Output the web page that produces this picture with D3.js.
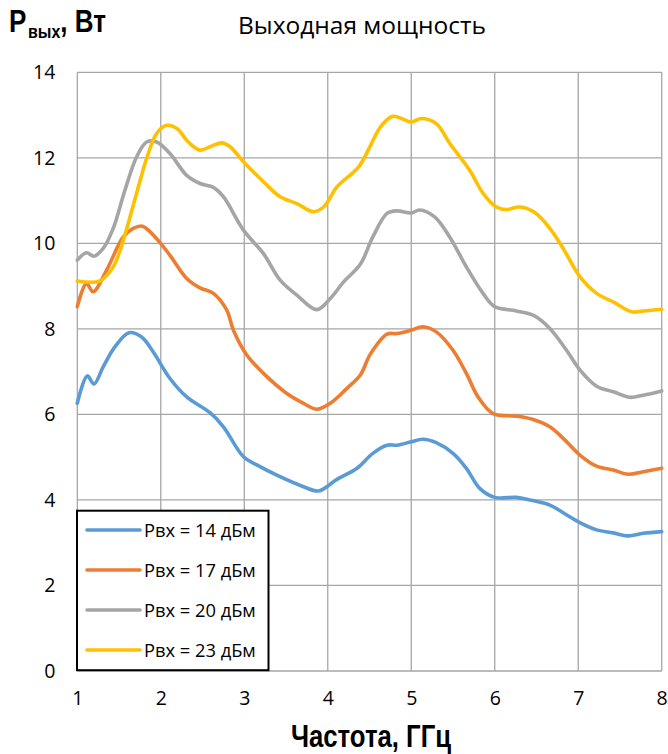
<!DOCTYPE html>
<html><head><meta charset="utf-8">
<script src="https://cdn.jsdelivr.net/npm/d3@7"></script>
<style>
html,body{margin:0;padding:0;background:#fff;}
svg{display:block;}
</style></head>
<body>
<svg id="chart" width="668" height="754"></svg>
<script>
// ---------- data ----------
const xTicks = [1,2,3,4,5,6,7,8];
const yTicks = [0,2,4,6,8,10,12,14];
const seriesNames = ["Рвх = 14 дБм","Рвх = 17 дБм","Рвх = 20 дБм","Рвх = 23 дБм"];
const seriesColors = ["#5B9BD5","#ED7D31","#A5A5A5","#FFC000"];

const freq14 = [1.0,1.12,1.2,1.31,1.45,1.62,1.77,1.91,2.11,2.31,2.59,2.75,2.99,3.15,3.39,3.71,3.89,4.11,4.35,4.54,4.71,4.83,5.0,5.14,5.30,5.50,5.66,5.82,6.0,6.26,6.42,6.66,6.82,7.02,7.22,7.42,7.60,7.78,8.0];
const p14   = [6.26,6.90,6.71,7.11,7.58,7.91,7.81,7.46,6.84,6.41,6.04,5.71,5.01,4.82,4.58,4.31,4.21,4.48,4.74,5.09,5.28,5.28,5.36,5.42,5.34,5.09,4.74,4.27,4.06,4.06,4.00,3.88,3.70,3.47,3.30,3.23,3.16,3.22,3.26];

const freq17 = [1.0,1.11,1.19,1.35,1.55,1.67,1.78,1.95,2.11,2.31,2.47,2.63,2.79,2.87,3.03,3.23,3.51,3.71,3.87,4.03,4.23,4.39,4.51,4.71,4.83,5.0,5.14,5.30,5.50,5.66,5.80,5.98,6.26,6.46,6.66,6.82,7.02,7.22,7.42,7.60,7.78,8.0];
const p17   = [8.52,9.06,8.87,9.37,10.15,10.35,10.40,10.11,9.72,9.18,8.96,8.83,8.44,7.97,7.39,6.96,6.49,6.26,6.12,6.26,6.61,6.92,7.41,7.88,7.89,7.97,8.05,7.93,7.50,6.96,6.41,6.02,5.96,5.88,5.71,5.44,5.05,4.79,4.70,4.60,4.66,4.74];

const freq20 = [1.0,1.11,1.2,1.31,1.43,1.57,1.71,1.83,1.95,2.11,2.31,2.47,2.63,2.75,2.99,3.23,3.43,3.63,3.87,4.03,4.19,4.39,4.54,4.71,4.83,5.0,5.10,5.28,5.46,5.66,5.86,6.0,6.26,6.46,6.66,6.86,7.02,7.22,7.42,7.62,7.78,8.0];
const p20   = [9.61,9.78,9.70,9.88,10.35,11.24,12.02,12.37,12.37,12.10,11.59,11.40,11.31,11.09,10.31,9.76,9.14,8.79,8.45,8.71,9.10,9.51,10.15,10.70,10.76,10.71,10.78,10.62,10.15,9.45,8.83,8.52,8.42,8.32,8.01,7.50,7.04,6.66,6.53,6.40,6.45,6.55];

const freq23 = [1.0,1.27,1.43,1.55,1.71,1.83,1.95,2.07,2.19,2.33,2.47,2.59,2.73,2.83,2.99,3.23,3.43,3.63,3.83,3.95,4.11,4.37,4.51,4.63,4.78,5.0,5.12,5.30,5.46,5.70,5.86,6.02,6.14,6.30,6.48,6.66,6.82,7.02,7.22,7.42,7.64,7.78,8.0];
const p23   = [9.12,9.12,9.45,10.07,11.17,11.98,12.57,12.76,12.69,12.37,12.18,12.26,12.35,12.26,11.91,11.44,11.09,10.93,10.74,10.85,11.32,11.79,12.28,12.72,12.97,12.84,12.92,12.80,12.34,11.71,11.17,10.85,10.79,10.85,10.72,10.35,9.88,9.22,8.83,8.63,8.40,8.42,8.46];

const freqs = [freq14,freq17,freq20,freq23];
const powers = [p14,p17,p20,p23];

// ---------- layout ----------
const svg = d3.select("#chart");
const m = {left:77.3, right:661.7, top:72.3, bottom:671};
const x = d3.scaleLinear().domain([1,8]).range([m.left,m.right]);
const y = d3.scaleLinear().domain([0,14]).range([m.bottom,m.top]);
const gridColor = "#a6a6a6";
const tickFont = "'Open Sans', 'Liberation Sans', sans-serif";
const boldFont = "'Liberation Sans', Arial, sans-serif";

// grid
const g = svg.append("g");
g.selectAll("line.h").data(yTicks).join("line")
  .attr("x1",m.left).attr("x2",m.right)
  .attr("y1",d=>y(d)).attr("y2",d=>y(d))
  .attr("stroke",gridColor).attr("stroke-width",1.3);
g.selectAll("line.v").data(xTicks).join("line")
  .attr("y1",m.top).attr("y2",m.bottom)
  .attr("x1",d=>x(d)).attr("x2",d=>x(d))
  .attr("stroke",gridColor).attr("stroke-width",1.3);

// axes (labels only)
const yAxis = d3.axisLeft(y).tickValues(yTicks).tickSize(0).tickPadding(22).tickFormat(d3.format("d"));
svg.append("g").attr("transform",`translate(${m.left},0)`).call(yAxis)
  .call(s=>s.select(".domain").remove())
  .selectAll("text").attr("font-family",tickFont).attr("font-size",19.5).attr("fill","#000");
const xAxis = d3.axisBottom(x).tickValues(xTicks).tickSize(0).tickPadding(20).tickFormat(d3.format("d"));
svg.append("g").attr("transform",`translate(0,${m.bottom})`).call(xAxis)
  .call(s=>s.select(".domain").remove())
  .selectAll("text").attr("font-family",tickFont).attr("font-size",19.5).attr("fill","#000");

// lines
const line = d3.line().x(d=>x(d[0])).y(d=>y(d[1])).curve(d3.curveCatmullRom.alpha(0.5));
powers.forEach((vals,i)=>{
  const pts = freqs[i].map((f,j)=>[f,vals[j]]);
  svg.append("path").datum(pts).attr("d",line)
    .attr("fill","none").attr("stroke",seriesColors[i])
    .attr("stroke-width",3.6).attr("stroke-linejoin","round").attr("stroke-linecap","round");
});

// legend
const lg = svg.append("g");
lg.append("rect").attr("x",77).attr("y",510.7).attr("width",191.5).attr("height",159.5)
  .attr("fill","#fff").attr("stroke","#000").attr("stroke-width",2);
seriesNames.forEach((name,i)=>{
  const yy = 530 + i*40;
  lg.append("line").attr("x1",87).attr("x2",140).attr("y1",yy).attr("y2",yy)
    .attr("stroke",seriesColors[i]).attr("stroke-width",3.6).attr("stroke-linecap","round");
  lg.append("text").attr("x",144).attr("y",yy).attr("dy","0.36em")
    .attr("font-family",tickFont).attr("font-size",18.3).attr("fill","#000").text(name);
});

// titles
svg.append("text").attr("x",362).attr("y",34.3).attr("text-anchor","middle")
  .attr("font-family",tickFont).attr("font-size",24.5).attr("fill","#000").text("Выходная мощность");

const ylg = svg.append("g").attr("transform","translate(9,31.7) scale(0.84,1)");
const yl = ylg.append("text").attr("x",0).attr("y",0)
  .attr("font-family",boldFont).attr("font-weight","bold").attr("fill","#000");
yl.append("tspan").attr("font-size",31).text("P");
yl.append("tspan").attr("font-size",19).attr("dx",2).attr("dy",6.6).text("вых");
yl.append("tspan").attr("font-size",31).attr("dy",-6.6).text(", Вт");

svg.append("g").attr("transform","translate(371,747) scale(0.83,1)")
  .append("text").attr("x",0).attr("y",0).attr("text-anchor","middle")
  .attr("font-family",boldFont).attr("font-weight","bold").attr("font-size",31).attr("fill","#000").text("Частота, ГГц");
</script>
</body></html>
